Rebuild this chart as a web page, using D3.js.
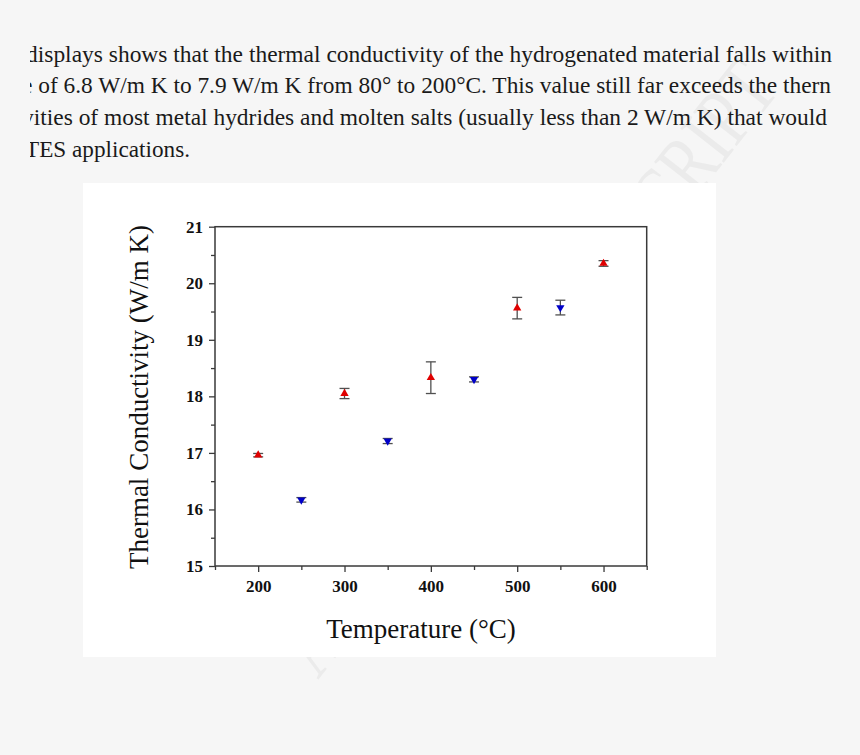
<!DOCTYPE html>
<html>
<head>
<meta charset="utf-8">
<script src="https://cdn.jsdelivr.net/npm/d3@7"></script>
<style>
  html, body { margin: 0; padding: 0; background: #f6f6f6; }
  svg { display: block; }
</style>
</head>
<body>
<svg id="chart" width="860" height="755"></svg>
<script>
// ---------------- data ----------------
const bodyLines = [
  "displays shows that the thermal conductivity of the hydrogenated material falls within",
  "e of 6.8 W/m K to 7.9 W/m K from 80° to 200°C. This value still far exceeds the thern",
  "vities of most metal hydrides and molten salts (usually less than 2 W/m K) that would",
  "TES applications."
];
const upTemps   = [200, 300, 400, 500, 600];
const upValues  = [16.96, 18.05, 18.33, 19.56, 20.35];
const upErrors  = [0.03, 0.09, 0.28, 0.19, 0.05];
const downTemps  = [250, 350, 450, 550];
const downValues = [16.17, 17.21, 18.30, 19.57];
const downErrors = [0.04, 0.045, 0.045, 0.13];
const xTicks = [200, 300, 400, 500, 600];
const xMinorTicks = [150, 250, 350, 450, 550, 650];
const yTicks = [15, 16, 17, 18, 19, 20, 21];
const yMinorTicks = [15.5, 16.5, 17.5, 18.5, 19.5, 20.5];
const xTitle = "Temperature (°C)";
const yTitle = "Thermal Conductivity (W/m K)";

// ---------------- drawing ----------------
(function () {
const svg = d3.select("#chart");
const serif = "'Liberation Serif', 'Times New Roman', serif";

svg.append("rect").attr("width", 860).attr("height", 755).attr("fill", "#f6f6f6");

// faint watermark
svg.append("text")
  .attr("transform", "translate(318,680) rotate(-51.9)")
  .attr("text-anchor", "start")
  .attr("font-family", serif)
  .attr("font-size", 84)
  .attr("fill", "#ebebeb")
  .attr("textLength", 750)
  .attr("lengthAdjust", "spacingAndGlyphs")
  .text("ACCEPTED MANUSCRIPT");

// body text (clipped page excerpt)
const defs = svg.append("defs");
defs.append("clipPath").attr("id", "textClip")
  .append("rect").attr("x", 30).attr("y", 0).attr("width", 802).attr("height", 175);

const lineSpecs = [
  {x: 26, y: 62, len: 806},
  {x: 22, y: 93, len: 809},
  {x: 22, y: 125, len: 805},
  {x: 25, y: 157, len: 165}
];
const tg = svg.append("g").attr("clip-path", "url(#textClip)");
tg.selectAll("text").data(bodyLines).join("text")
  .attr("x", (d, i) => lineSpecs[i].x)
  .attr("y", (d, i) => lineSpecs[i].y)
  .attr("textLength", (d, i) => lineSpecs[i].len)
  .attr("lengthAdjust", "spacingAndGlyphs")
  .attr("font-family", serif)
  .attr("font-size", 24)
  .attr("fill", "#1a1a1a")
  .text(d => d);

// white figure panel
svg.append("rect")
  .attr("x", 83).attr("y", 183).attr("width", 633).attr("height", 474)
  .attr("fill", "#ffffff");

const pL = 215, pR = 646.7, pT = 226.7, pB = 566;
const x = d3.scaleLinear().domain([150, 650]).range([pL, pR]);
const y = d3.scaleLinear().domain([15, 21]).range([pB, pT]);

const axisColor = "#3a3a3a";

const gx = svg.append("g").attr("transform", `translate(0,${pB})`)
  .call(d3.axisBottom(x).tickValues(xTicks).tickFormat(d3.format("d"))
    .tickSize(6).tickSizeOuter(0).tickPadding(8));
gx.select(".domain").remove();
const gxm = svg.append("g").attr("transform", `translate(0,${pB})`)
  .call(d3.axisBottom(x).tickValues(xMinorTicks).tickSize(4).tickFormat(""));
gxm.select(".domain").remove();

const gy = svg.append("g").attr("transform", `translate(${pL},0)`)
  .call(d3.axisLeft(y).tickValues(yTicks).tickFormat(d3.format("d"))
    .tickSize(6).tickSizeOuter(0).tickPadding(6));
gy.select(".domain").remove();
const gym = svg.append("g").attr("transform", `translate(${pL},0)`)
  .call(d3.axisLeft(y).tickValues(yMinorTicks).tickSize(4).tickFormat(""));
gym.select(".domain").remove();

svg.selectAll(".tick line").attr("stroke", axisColor).attr("stroke-width", 1.3);
svg.selectAll(".tick text")
  .attr("font-family", serif).attr("font-weight", "bold")
  .attr("font-size", 17).attr("fill", "#111");

svg.append("rect")
  .attr("x", pL).attr("y", pT)
  .attr("width", pR - pL).attr("height", pB - pT)
  .attr("fill", "none").attr("stroke", axisColor).attr("stroke-width", 1.5);

svg.append("text")
  .attr("x", 421).attr("y", 638)
  .attr("text-anchor", "middle")
  .attr("font-family", serif).attr("font-size", 27).attr("fill", "#111")
  .text(xTitle);
svg.append("text")
  .attr("transform", "translate(148,397) rotate(-90)")
  .attr("text-anchor", "middle")
  .attr("font-family", serif).attr("font-size", 27).attr("fill", "#111")
  .text(yTitle);

const upData = upTemps.map((t, i) => ({t, v: upValues[i], e: upErrors[i]}));
const downData = downTemps.map((t, i) => ({t, v: downValues[i], e: downErrors[i]}));

function drawSeries(data, color, rot) {
  const g = svg.append("g");
  const eb = g.selectAll("g.eb").data(data).join("g").attr("class", "eb")
    .attr("stroke", "#505050").attr("stroke-width", 1.3);
  eb.append("line")
    .attr("x1", d => x(d.t)).attr("x2", d => x(d.t))
    .attr("y1", d => y(d.v + d.e)).attr("y2", d => y(d.v - d.e));
  eb.append("line")
    .attr("x1", d => x(d.t) - 5).attr("x2", d => x(d.t) + 5)
    .attr("y1", d => y(d.v + d.e)).attr("y2", d => y(d.v + d.e));
  eb.append("line")
    .attr("x1", d => x(d.t) - 5).attr("x2", d => x(d.t) + 5)
    .attr("y1", d => y(d.v - d.e)).attr("y2", d => y(d.v - d.e));
  g.selectAll("path.m").data(data).join("path").attr("class", "m")
    .attr("d", d3.symbol().type(d3.symbolTriangle).size(30))
    .attr("transform", d => `translate(${x(d.t)},${y(d.v)}) rotate(${rot})`)
    .attr("fill", color);
}
drawSeries(upData, "#e00000", 0);
drawSeries(downData, "#0000c8", 180);
})();
</script>
</body>
</html>
